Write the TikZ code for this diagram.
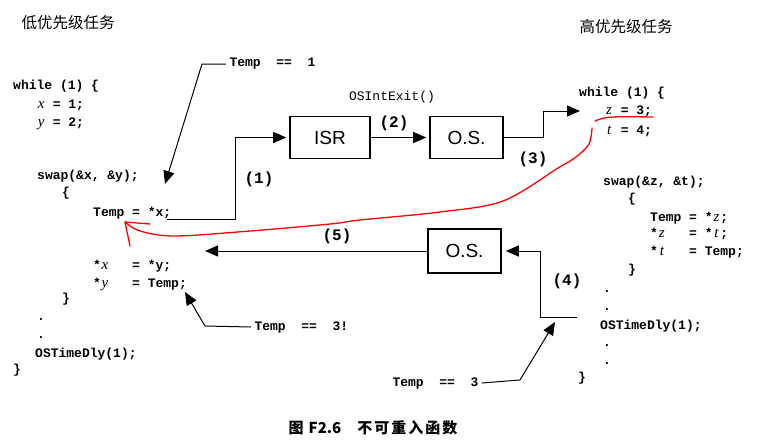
\documentclass[tikz,border=0pt]{standalone}
\usepackage{fontspec}
\setmainfont{Liberation Serif}
\setsansfont{Liberation Sans}
\setmonofont{Liberation Mono}
\newfontfamily\cjk{Noto Sans CJK SC}
\usetikzlibrary{arrows.meta, calc, positioning}
\newcommand{\codevar}[1]{\makebox[0.6em]{\rmfamily\mdseries\itshape\fontsize{15}{15}\selectfont #1}}

\begin{document}
\begin{tikzpicture}[x=1pt, y=-1pt,
  code/.style={anchor=base west, inner sep=0pt, font=\ttfamily\bfseries\fontsize{13}{13}\selectfont},
  box/.style={draw, line width=1.6pt, minimum width=76pt, minimum height=42pt, inner sep=0pt, font=\sffamily\fontsize{19}{19}\selectfont},
  flow/.style={line width=1pt, -{Triangle[length=13pt, width=11pt]}},
  steplbl/.style={font=\ttfamily\bfseries\fontsize{16}{16}\selectfont},
  note/.style={anchor=west, font=\ttfamily\bfseries\fontsize{13}{13}\selectfont},
  redpen/.style={red, line width=1.3pt, line cap=round, line join=round}]
\useasboundingbox (0,0) rectangle (762,445);

% titles
\node (lowtitle) at (68,23) {\cjk\fontsize{15.5}{16}\selectfont 低优先级任务};
\node (hightitle) at (626,27) {\cjk\fontsize{15.5}{16}\selectfont 高优先级任务};

% low priority task
\node[code] (lw) at (13,89) {while (1) \{};
\node[code] (lx) at (37,108) {\codevar{x} = 1;};
\node[code] (ly) at (37,126) {\codevar{y} = 2;};
\node[code] (lswap) at (37,179) {swap(\&x, \&y);};
\node[code] (lob) at (62,196) {\{};
\node[code] (ltx) at (93,216) {Temp = *x;};
\node[code] (lxy) at (93,269) {*\codevar{x}~~~=~*y;};
\node[code] (lyt) at (93,287) {*\codevar{y}~~~=~Temp;};
\node[code] (lcb) at (62,302) {\}};
\node[code] (ld1) at (37,320) {.};
\node[code] (ld2) at (37,338) {.};
\node[code] (ldly) at (35,357) {OSTimeDly(1);};
\node[code] (lend) at (13,373) {\}};

% high priority task
\node[code] (rw) at (579,96) {while (1) \{};
\node[code] (rz) at (605,114) {\codevar{z} = 3;};
\node[code] (rt) at (605,134) {\codevar{t} = 4;};
\node[code] (rswap) at (603,185) {swap(\&z, \&t);};
\node[code] (rob) at (628,202) {\{};
\node[code] (rtz) at (650,221) {Temp = *\codevar{z};};
\node[code] (rzt) at (650,237) {*\codevar{z}~~~=~*\codevar{t};};
\node[code] (rtt) at (650,255) {*\codevar{t}~~~=~Temp;};
\node[code] (rcb) at (628,273) {\}};
\node[code] (rd1) at (603,292) {.};
\node[code] (rd2) at (603,310) {.};
\node[code] (rdly) at (600,329) {OSTimeDly(1);};
\node[code] (rd3) at (603,346) {.};
\node[code] (rd4) at (603,364) {.};
\node[code] (rend) at (578,381) {\}};

% boxes
\node[box, minimum width=80pt] (isr) at (330,137.5) {ISR};
\node[box, minimum width=73pt] (os1) at (466.5,137.5) {O.S.};
\node[box, minimum width=73pt, minimum height=44pt] (os2) at (464.5,251) {O.S.};

% flow
\coordinate (c1) at (167,219);
\coordinate (c3) at (580,111);
\coordinate (c4) at (577,317);
\coordinate (c5) at (205,251);
\draw[flow, shorten >=3pt] (c1) -- (235,219) |- (isr.west);
\draw[flow, shorten >=3pt] (isr) -- (os1);
\draw[flow] (os1.east) -- (543,137.5) |- (c3);
\draw[flow, shorten >=4pt] (c4) -- (540,317) |- (os2.east);
\draw[flow] (os2.west) -- (c5);
\node[steplbl] (lbl1) at (259,179) {(1)};
\node[steplbl] (lbl2) at (394,123) {(2)};
\node[steplbl] (lbl3) at (533,159) {(3)};
\node[steplbl] (lbl4) at (567,281) {(4)};
\node[steplbl] (lbl5) at (337,236) {(5)};
\node[font=\ttfamily\fontsize{13}{13}\selectfont] (exit) at (392,97) {OSIntExit()};

% Temp notes
\node[note] (t1) at (226,64) {Temp~~==~~1};
\node[note] (t3a) at (251,327) {Temp~~==~~3!};
\node[note] (t3b) at (389,383) {Temp~~==~~3};
\coordinate (p1) at (165,184);
\coordinate (p2) at (185,292);
\coordinate (p3) at (555,322);
\draw[flow] (t1.west) -- (202,64) -- (p1);
\draw[flow] (t3a.west) -- (205,326) -- (p2);
\draw[flow] (t3b.east) -- (520,380) -- (p3);

% red pen
\coordinate (rtip) at (125,222);
\draw[redpen] (595,121) .. controls (606,116) and (615,116.5) .. (653,117);
\draw[redpen] plot[smooth, tension=0.55] coordinates {(592,128) (589,144) (576,157) (558,168) (503,201) (440,212) (360,220) (330,224) (250,231) (175,236) (140,231) (rtip)};
\draw[redpen] (150,224) -- (rtip) -- (130,246);

% caption
\node (caption) at (373,428) {\cjk\bfseries\fontsize{15}{15}\selectfont 图\hspace{5pt}F2.6\hspace{16pt}不\hspace{2pt}可\hspace{2pt}重\hspace{2pt}入\hspace{2pt}函\hspace{2pt}数};
\end{tikzpicture}
\end{document}
